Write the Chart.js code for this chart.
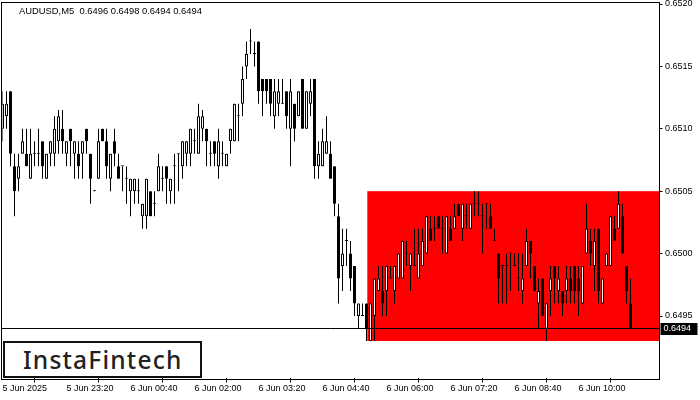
<!DOCTYPE html>
<html>
<head>
<meta charset="utf-8">
<script src="https://cdn.jsdelivr.net/npm/chart.js@4.4.1/dist/chart.umd.min.js"></script>
<style>
  html, body { margin: 0; padding: 0; background: #fff; }
  #wrap { position: relative; width: 700px; height: 400px; }
  #title { position: absolute; left: 19px; top: 5px; font: 9.4px "Liberation Sans", Arial, sans-serif; color: #000; white-space: pre; }
  #logo { position: absolute; left: 3px; top: 341px; width: 199px; height: 37px; box-sizing: border-box;
          border: 2px solid #111; background: #fff; padding-left: 18px;
          font: 500 24.5px "Noto Sans", sans-serif; letter-spacing: 1.2px; line-height: 33px; color: #222; }
</style>
</head>
<body>
<div id="wrap">
  <canvas id="chart" width="700" height="400"></canvas>
  <div id="title">AUDUSD,M5  0.6496 0.6498 0.6494 0.6494</div>
  <div id="logo">InstaFintech</div>
</div>
<script>
// harga dalam satuan 0.0001 (pip), satu candle per 5 menit
const opens = [
  6510,6511,6513,6507,6506,6508,6508,6506,6508,6508,
  6509,6506,6508,6508,6509,6510,6508,6510,6508,6508,
  6508,6510,6508,6505,6506,6510,6509,6506,6509,6507,
  6507,6506,6505,6505,6505,6503,6503,6505,6504,6505,
  6506,6507,6505,6507,6508,6507,6508,6508,6509,6508,
  6510,6510,6508,6509,6507,6508,6507,6509,6509,6511,
  6512,6515,6517,6516,6517,6514,6514,6514,6511,6512,
  6512,6513,6510,6512,6511,6514,6510,6512,6514,6507,
  6507,6508,6508,6507,6503,6499,6501,6500,6499,6495,
  6495,6496,6493,6495,6497,6497,6497,6498,6497,6498,
  6498,6500,6499,6499,6498,6499,6500,6502,6502,6503,
  6502,6500,6502,6502,6504,6502,6503,6502,6504,6504,
  6503,6504,6503,6501,6500,6499,6499,6500,6499,6498,
  6497,6499,6501,6499,6496,6498,6494,6497,6499,6497,
  6497,6497,6498,6499,6498,6496,6500,6501,6499,6502,
  6496,6499,6499,6502,6502,6503,6499,6496
];
const highs = [
  6513,6513,6513,6508,6508,6510,6510,6510,6509,6510,
  6509,6508,6509,6511,6511.5,6511.5,6509,6510,6509,6509,
  6509,6510,6508,6505,6510,6510,6510,6508,6510,6508,
  6507,6507,6506,6506,6506,6504,6506,6505,6505,6508,
  6507,6507,6506,6508,6508,6509,6509,6510,6510,6512,
  6511.5,6510,6509,6509,6510,6509,6508,6510,6512,6512,
  6515,6517,6518,6517,6517,6514,6514,6514,6514,6514,
  6514,6513,6514,6512,6513,6514,6513,6514,6514,6509,
  6510,6511,6509,6507,6504,6502,6502,6501,6499,6496,
  6496,6496,6496,6498,6499,6499,6499,6499,6499,6500,
  6501,6501,6500,6502,6502,6502,6503,6503,6503,6503,
  6503,6503,6503,6504,6504,6504,6504,6504,6505,6505,
  6504,6504,6504,6502,6500,6499,6500,6500,6500,6500,
  6500,6502,6501,6499,6498,6498,6496,6499,6499,6499,
  6497,6499,6499,6499,6499,6499,6504,6502,6502,6502,
  6498,6500,6503,6503,6505,6504,6499,6498
];
const lows = [
  6509,6510,6507,6503,6505,6508,6507,6506,6507,6507,
  6506,6506,6507,6507,6508,6508,6507,6507,6506,6506,
  6506,6508,6504,6505,6506,6509,6506,6505,6507,6506,
  6505,6504,6503,6504,6504,6502,6502,6503,6503,6505,
  6505,6504,6504,6504,6505,6506,6507,6507,6508,6508,
  6509,6507,6507,6507,6506,6507,6507,6508,6509,6509,
  6511,6514,6516,6515,6512,6511,6512,6511,6510,6511,
  6512,6510,6507,6509,6511,6510,6510,6511,6506,6506,
  6507,6508,6506,6503,6496,6497,6499,6497,6495,6494,
  6495,6493,6493,6493,6497,6495,6495,6498,6496,6498,
  6498,6499,6497,6499,6498,6499,6500,6501,6501,6502,
  6500,6500,6501,6502,6503,6501,6502,6502,6503,6503,
  6500,6502,6502,6501,6496,6496,6496,6497,6499,6497,
  6496,6499,6498,6497,6494,6495,6493,6495,6496,6496,
  6495,6496,6496,6496,6495,6496,6500,6499,6497,6496,
  6496,6499,6499,6501,6502,6500,6496,6494
];
const closes = [
  6512,6512,6508,6505,6507,6509,6507,6508,6508,6508,
  6507,6508,6509,6510,6511,6509,6509,6509,6509,6507,
  6509,6509,6506,6505,6509,6509,6507,6508,6508,6506,
  6507,6506,6506,6506,6505,6504,6506,6503,6504,6507,
  6506,6506,6506,6507,6508,6509,6509,6510,6509,6511,
  6511,6509,6508,6508,6509,6508,6508,6510,6512,6511,
  6514,6516,6517,6516,6513,6513,6513,6512,6513,6513,
  6512,6511,6513,6510,6513,6510,6513,6513,6507,6508,
  6509,6509,6506,6504,6498,6500,6501,6498,6496,6496,
  6495,6494,6496,6498,6498,6496,6499,6498,6499,6500,
  6501,6500,6500,6499,6500,6501,6503,6501,6502,6502,
  6502,6503,6501,6503,6503,6504,6503,6504,6504,6504,
  6503,6504,6502,6501,6498,6499,6499,6500,6499,6498,
  6498,6501,6500,6497,6497,6495,6496,6498,6498,6498,
  6496,6498,6497,6497,6497,6499,6502,6500,6501,6497,
  6498,6500,6503,6501,6504,6500,6497,6494
];

// label waktu tiap 16 candle (80 menit)
const timeLabels = ['5 Jun 2025', '5 Jun 23:20', '6 Jun 00:40', '6 Jun 02:00', '6 Jun 03:20',
                    '6 Jun 04:40', '6 Jun 06:00', '6 Jun 07:20', '6 Jun 08:40', '6 Jun 10:00'];
const labelStep = 16;
const slotCount = 164;

// skala harga
const priceMin = 0.6490, priceMax = 0.6520, priceStep = 0.0005;

// zona merah (kotak sideways)
const zoneStart = 91.2, zoneTop = 0.6505, zoneBottom = 0.6493;

const pip = v => v / 10000;
const idx = opens.map((_, i) => i);
const lastPrice = pip(closes[closes.length - 1]);

const overlay = {
    id: 'overlay',
    beforeDatasetsDraw(chart) {
        const { ctx, chartArea: a, scales: { x, y } } = chart;
        const x0 = x.getPixelForValue(zoneStart);
        const y0 = y.getPixelForValue(zoneTop);
        const y1 = y.getPixelForValue(zoneBottom);
        ctx.save();
        ctx.fillStyle = '#ff0000';
        ctx.fillRect(x0, y0, a.right + 1 - x0, y1 - y0);
        ctx.restore();
    },
    afterDatasetsDraw(chart) {
        const { ctx, chartArea: a, scales: { y } } = chart;
        const py = Math.round(y.getPixelForValue(lastPrice)) + 0.5;
        ctx.save();
        ctx.strokeStyle = '#000';
        ctx.lineWidth = 1;
        ctx.beginPath();
        ctx.moveTo(1, py);
        ctx.lineTo(a.right + 1, py);
        ctx.stroke();
        ctx.restore();
    },
    afterDraw(chart) {
        const { ctx, chartArea: a, scales: { y } } = chart;
        ctx.save();
        // bingkai
        ctx.strokeStyle = '#000';
        ctx.lineWidth = 1;
        ctx.strokeRect(1.5, 2.5, a.right + 1 - 1.5, 379.5 - 2.5);
        // label harga terakhir
        const py = Math.round(y.getPixelForValue(lastPrice));
        ctx.fillStyle = '#000';
        ctx.fillRect(a.right + 2, py - 5, 37, 12);
        ctx.fillStyle = '#fff';
        ctx.font = '9px "Liberation Sans", Arial, sans-serif';
        ctx.textBaseline = 'middle';
        ctx.textAlign = 'left';
        ctx.fillText(lastPrice.toFixed(4), a.right + 5, py + 1);
        ctx.restore();
    }
};

new Chart(document.getElementById('chart'), {
    type: 'bar',
    data: {
        datasets: [
            {
                // badan candle
                data: idx.map(i => ({ x: i, y: [pip(opens[i]), pip(closes[i])] })),
                backgroundColor: idx.map(i => closes[i] > opens[i] ? '#ffffff' : '#000000'),
                borderColor: '#000000',
                borderWidth: 1,
                borderSkipped: false,
                barThickness: 3,
                minBarLength: 1,
                inflateAmount: 0,
                grouped: false,
                order: 0
            },
            {
                // sumbu (wick)
                data: idx.map(i => ({ x: i, y: [pip(lows[i]), pip(highs[i])] })),
                backgroundColor: '#000000',
                borderWidth: 0,
                barThickness: 1,
                minBarLength: 1,
                inflateAmount: 0,
                grouped: false,
                order: 1
            }
        ]
    },
    options: {
        responsive: false,
        animation: false,
        events: [],
        layout: { padding: { left: 2.5, top: 4, right: 0, bottom: 0 } },
        plugins: { legend: { display: false }, tooltip: { enabled: false }, title: { display: false } },
        scales: {
            x: {
                type: 'linear',
                min: 0,
                max: slotCount,
                offset: false,
                border: { display: false },
                grid: { drawOnChartArea: false, drawTicks: true, tickLength: 4, color: '#000' },
                ticks: {
                    stepSize: labelStep,
                    includeBounds: false,
                    autoSkip: false,
                    maxRotation: 0,
                    align: 'start',
                    padding: 1,
                    color: '#000',
                    font: { family: '"Liberation Sans", Arial, sans-serif', size: 9 },
                    callback: v => timeLabels[v / labelStep] ?? null
                },
                afterFit: s => { s.height = 21.6; s.paddingLeft = 0; s.paddingRight = 0; }
            },
            y: {
                position: 'right',
                min: priceMin,
                max: priceMax,
                border: { display: false },
                grid: { drawOnChartArea: false, drawTicks: true, tickLength: 4, color: '#000' },
                ticks: {
                    stepSize: priceStep,
                    padding: 2.5,
                    color: '#000',
                    font: { family: '"Liberation Sans", Arial, sans-serif', size: 9 },
                    callback: v => v <= priceMin + 0.00001 ? null : v.toFixed(4)
                },
                afterFit: s => { s.width = 41.5; s.paddingTop = 0; s.paddingBottom = 0; }
            }
        }
    },
    plugins: [overlay]
});
</script>
</body>
</html>
